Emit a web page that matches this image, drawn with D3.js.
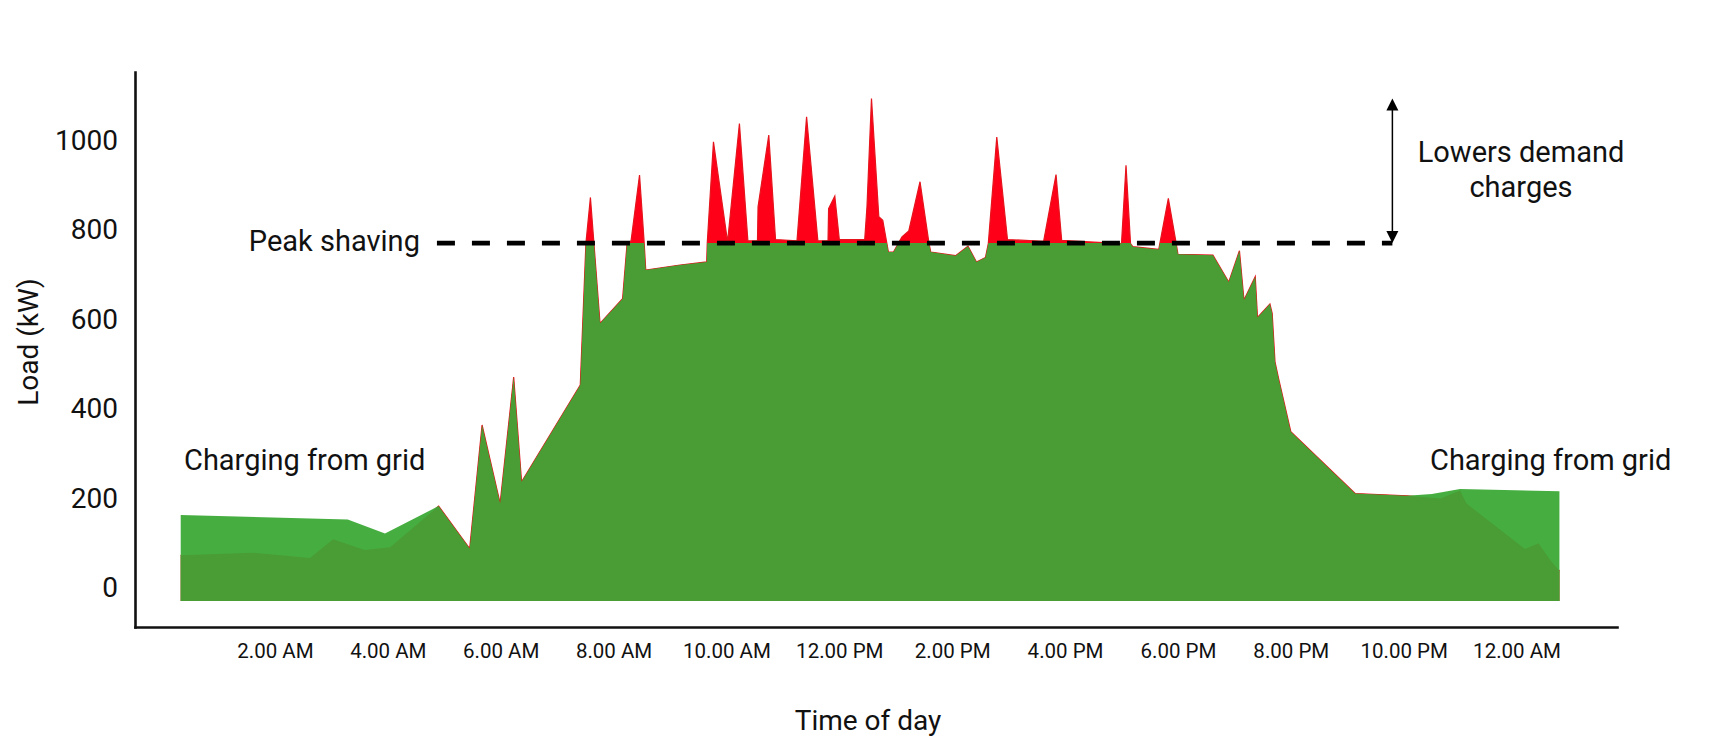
<!DOCTYPE html>
<html>
<head>
<meta charset="utf-8">
<script src="https://cdn.jsdelivr.net/npm/d3@7"></script>
<style>
    body { margin: 0; background: #fff; }
    #chart { width: 1722px; height: 756px; }
    text { font-family: Roboto, "Noto Sans", sans-serif; fill: #111; }
</style>
</head>
<body>
<div id="chart"></div>
<script>
// Axis ticks
const tickHours = [2, 4, 6, 8, 10, 12, 14, 16, 18, 20, 22, 24];
const tickLabels = ["2.00 AM", "4.00 AM", "6.00 AM", "8.00 AM", "10.00 AM", "12.00 PM",
                    "2.00 PM", "4.00 PM", "6.00 PM", "8.00 PM", "10.00 PM", "12.00 AM"];
const loadTicks = [0, 200, 400, 600, 800, 1000];

// Building load over the day (hours since midnight, kW)
const hours = [0.33, 1.59, 2.62, 3.03, 3.59, 4.04, 4.90, 5.45, 5.67, 5.99, 6.23, 6.37,
    7.41, 7.51, 7.59, 7.76, 8.16, 8.24, 8.31, 8.46, 8.54, 8.57, 9.18, 9.65, 9.66, 9.77,
    10.02, 10.23, 10.38, 10.55, 10.56, 10.75, 10.87, 11.25, 11.42, 11.62, 11.80, 11.81,
    11.92, 12.00, 12.45, 12.49, 12.57, 12.70, 12.77, 12.87, 12.96, 13.11, 13.23, 13.43,
    13.59, 13.62, 14.06, 14.28, 14.43, 14.59, 14.64, 14.79, 14.98, 15.62, 15.84, 15.94,
    17.00, 17.08, 17.16, 17.20, 17.66, 17.83, 17.97, 18.00, 18.62, 18.90, 19.09, 19.17,
    19.37, 19.41, 19.63, 19.67, 19.72, 19.79, 20.00, 21.14, 22.06, 22.65, 23.00, 23.11,
    24.15, 24.39, 24.60, 24.76];
const originalLoad = [73, 79, 67, 109, 85, 91, 183, 88, 364, 189, 471, 237,
    453, 770, 872, 591, 646, 770, 775, 922, 775, 710, 721, 728, 770, 996,
    773, 1037, 775, 775, 851, 1011, 778, 775, 1052, 775, 775, 847,
    875, 778, 778, 851, 1093, 829, 821, 750, 750, 784, 797, 907,
    769, 750, 742, 763, 728, 738, 769, 1007, 778, 774, 923, 776,
    769, 944, 769, 762, 756, 870, 769, 745, 743, 683, 753, 643,
    695, 604, 634, 613, 505, 464, 349, 211, 206, 200, 218, 189,
    87, 100, 62, 38];

// Grid load while the battery charges (kW)
const chargeHoursAM = [0.33, 3.29, 3.95, 4.90];
const chargeLoadAM = [163, 153, 122, 183];
const chargeHoursPM = [22.06, 22.5, 23.0, 24.76];
const chargeLoadPM = [206, 210, 221, 216];

// Peak shaving level (kW)
const peakShaving = 770;

const colors = { peak: "#ff0019", peakEdge: "#e6141c", shaved: "#4a9d35", charge: "#46ae41" };

function createChart() {
    const svg = d3.select("#chart")
        .append("svg")
        .attr("width", 1722)
        .attr("height", 756);

    const x = d3.scaleLinear().domain([-0.48, 25.78]).range([135, 1617]);
    const y = d3.scaleLinear().domain([-87, 1152]).range([627, 72]);
    const base = -29;

    const load = hours.map((h, i) => ({ h: h, v: originalLoad[i] }));
    const chargeAM = chargeHoursAM.map((h, i) => ({ h: h, v: chargeLoadAM[i] }));
    const chargePM = chargeHoursPM.map((h, i) => ({ h: h, v: chargeLoadPM[i] }));

    const area = d3.area()
        .x(d => x(d.h))
        .y0(y(base))
        .y1(d => y(d.v));
    const line = d3.line()
        .x(d => x(d.h))
        .y(d => y(d.v));

    // Original load (peaks in red)
    svg.append("path").datum(load)
        .attr("d", area)
        .attr("fill", colors.peak);
    svg.append("path").datum(load)
        .attr("d", line)
        .attr("fill", "none")
        .attr("stroke", colors.peakEdge)
        .attr("stroke-width", 1.2);

    // Charging from grid
    [chargeAM, chargePM].forEach(d => {
        svg.append("path").datum(d)
            .attr("d", area)
            .attr("fill", colors.charge);
    });

    // Load after peak shaving
    svg.append("clipPath").attr("id", "shave")
        .append("rect")
        .attr("x", 0)
        .attr("y", y(peakShaving))
        .attr("width", 1722)
        .attr("height", 756 - y(peakShaving));

    svg.append("path").datum(load)
        .attr("d", area)
        .attr("fill", colors.shaved)
        .attr("clip-path", "url(#shave)");

    // Axes
    const yAxis = svg.append("g")
        .attr("transform", "translate(" + x.range()[0] + ",0)")
        .call(d3.axisLeft(y).tickValues(loadTicks).tickFormat(d3.format("d"))
            .tickSize(0).tickSizeOuter(0).tickPadding(17));
    yAxis.selectAll("text").style("font-size", "28px");

    const xAxis = svg.append("g")
        .attr("transform", "translate(0," + y.range()[0] + ")")
        .call(d3.axisBottom(x).tickValues(tickHours)
            .tickFormat((d, i) => tickLabels[i])
            .tickSize(0).tickSizeOuter(0).tickPadding(16));
    xAxis.selectAll("text").style("font-size", "20.5px");

    svg.selectAll(".domain")
        .attr("stroke", "#111")
        .attr("stroke-width", 2.6)
        .attr("stroke-linecap", "square");

    svg.append("text")
        .attr("x", 868)
        .attr("y", 730)
        .attr("text-anchor", "middle")
        .style("font-size", "28px")
        .text("Time of day");

    svg.append("text")
        .attr("transform", "translate(38,342) rotate(-90)")
        .attr("text-anchor", "middle")
        .style("font-size", "28px")
        .text("Load (kW)");

    // Peak shaving line
    const lineStart = 4.87, lineEnd = 21.8;
    svg.append("line")
        .attr("x1", x(lineStart))
        .attr("x2", x(lineEnd))
        .attr("y1", y(peakShaving))
        .attr("y2", y(peakShaving))
        .attr("stroke", "#000")
        .attr("stroke-width", 4.7)
        .attr("stroke-dasharray", "18,17");

    svg.append("text")
        .attr("x", x(lineStart) - 17)
        .attr("y", y(peakShaving) + 8)
        .attr("text-anchor", "end")
        .style("font-size", "29px")
        .text("Peak shaving");

    // Arrow between shaved level and highest peak
    const ax = x(lineEnd);
    const top = y(d3.max(originalLoad));
    const bottom = y(peakShaving);
    svg.append("line")
        .attr("x1", ax).attr("x2", ax)
        .attr("y1", top + 8).attr("y2", bottom - 8)
        .attr("stroke", "#000")
        .attr("stroke-width", 1.5);
    svg.append("path")
        .attr("d", "M" + ax + "," + top + "l-6,12h12z")
        .attr("fill", "#000");
    svg.append("path")
        .attr("d", "M" + ax + "," + bottom + "l-6,-12h12z")
        .attr("fill", "#000");

    svg.append("text")
        .attr("x", 1521).attr("y", 162)
        .attr("text-anchor", "middle")
        .style("font-size", "29px")
        .text("Lowers demand");
    svg.append("text")
        .attr("x", 1521).attr("y", 197)
        .attr("text-anchor", "middle")
        .style("font-size", "29px")
        .text("charges");

    // Charging labels
    svg.append("text")
        .attr("x", 184).attr("y", 470)
        .style("font-size", "29px")
        .text("Charging from grid");
    svg.append("text")
        .attr("x", 1430).attr("y", 470)
        .style("font-size", "29px")
        .text("Charging from grid");
}

createChart();
</script>
</body>
</html>
